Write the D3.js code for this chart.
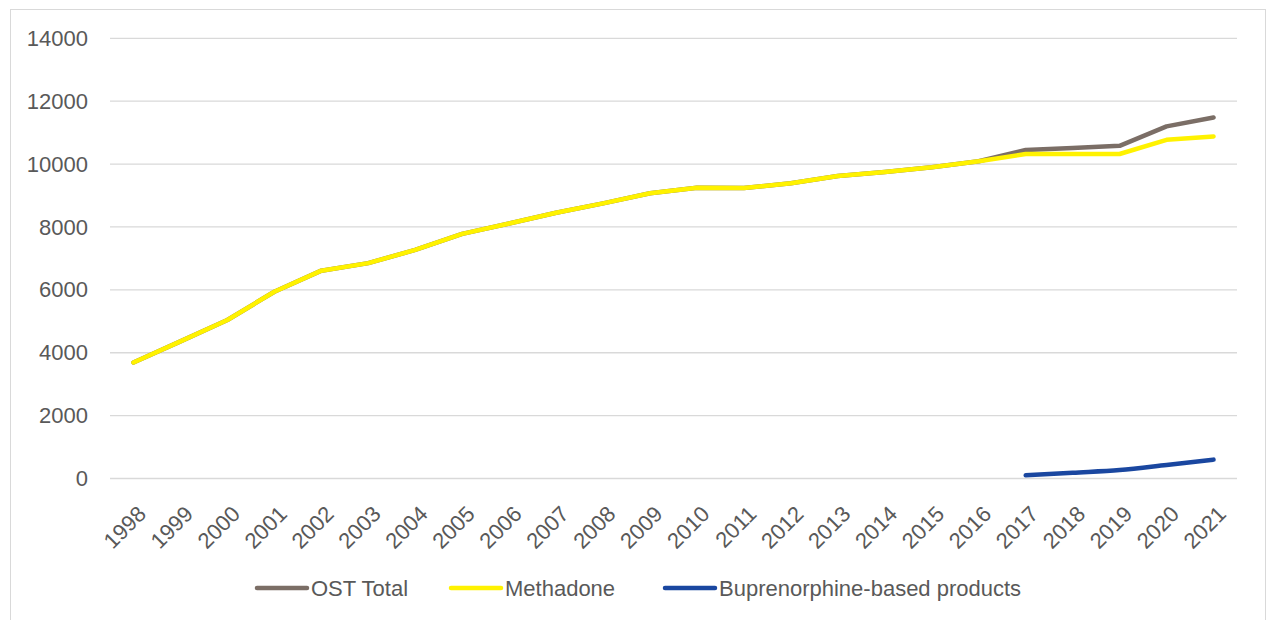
<!DOCTYPE html>
<html><head><meta charset="utf-8">
<script src="https://cdn.jsdelivr.net/npm/d3@7"></script>
<style>
html,body{margin:0;padding:0;background:#fff;}
svg{display:block;}
text{font-family:"Liberation Sans",Arial,sans-serif;fill:#595959;}
</style></head>
<body><svg id="c" width="1266" height="620"></svg>
<script>
const years = [1998,1999,2000,2001,2002,2003,2004,2005,2006,2007,2008,2009,2010,2011,2012,2013,2014,2015,2016,2017,2018,2019,2020,2021];
const ostTotal = [3690,4360,5040,5940,6610,6850,7270,7780,8110,8450,8750,9070,9250,9240,9390,9620,9750,9900,10090,10450,10510,10580,11200,11480];
const methadone = [3690,4360,5040,5940,6610,6850,7270,7780,8110,8450,8750,9070,9250,9240,9390,9620,9750,9900,10090,10320,10320,10320,10770,10880];
const buprenorphine = [null,null,null,null,null,null,null,null,null,null,null,null,null,null,null,null,null,null,null,100,185,270,430,600];
const yTicks = [0,2000,4000,6000,8000,10000,12000,14000];
const seriesNames = ["OST Total","Methadone","Buprenorphine-based products"];
const seriesColors = ["#7b6e66","#fff200","#1a47a0"];

const svg = d3.select("#c");
svg.append("rect").attr("x",10.5).attr("y",9.5).attr("width",1255).attr("height",640)
  .attr("fill","#fff").attr("stroke","#d9d9d9").attr("stroke-width",1);

const pLeft = 110, pRight = 1237, pTop = 38.3, pBottom = 478.5;
const x = d3.scaleBand().domain(years).range([pLeft,pRight]);
const y = d3.scaleLinear().domain([0,14000]).range([pBottom,pTop]);
const cx = d => x(d) + x.bandwidth()/2;

// gridlines
svg.append("g").selectAll("line").data(yTicks).join("line")
  .attr("x1",pLeft).attr("x2",pRight)
  .attr("y1",d=>y(d)).attr("y2",d=>y(d))
  .attr("stroke","#d9d9d9").attr("stroke-width",1.3);

// y axis labels
const yAxis = d3.axisLeft(y).tickValues(yTicks).tickSize(0).tickPadding(0).tickFormat(d3.format("d"));
const yg = svg.append("g").attr("transform",`translate(88,0)`).call(yAxis);
yg.select(".domain").remove();
yg.selectAll("text").attr("font-size",22).attr("fill","#595959")
  .style("font-family",'"Liberation Sans",Arial,sans-serif');

// x axis labels
const xAxis = d3.axisBottom(x).tickSize(0).tickPadding(0);
const xg = svg.append("g").call(xAxis);
xg.select(".domain").remove();
xg.selectAll(".tick").attr("transform",d=>`translate(${cx(d)+8.5},510)`);
xg.selectAll("text").attr("font-size",22).attr("fill","#595959")
  .style("font-family",'"Liberation Sans",Arial,sans-serif')
  .attr("text-anchor","end").attr("y",0).attr("dy","0.35em")
  .attr("transform","rotate(-45)");

const data = [ostTotal, methadone, buprenorphine];
data.forEach((vals,i)=>{
  const pts = years.map((yr,j)=>({yr, v: vals[j]})).filter(p=>p.v!==null);
  const line = d3.line().x(p=>cx(p.yr)).y(p=>y(p.v))
    .curve(i===2 ? d3.curveMonotoneX : d3.curveLinear);
  svg.append("path").datum(pts).attr("d",line)
    .attr("fill","none").attr("stroke",seriesColors[i]).attr("stroke-width",4.5)
    .attr("stroke-linecap","round").attr("stroke-linejoin","round");
});

// legend
const legendX = [257, 451, 665];
const lg = svg.append("g");
seriesNames.forEach((n,i)=>{
  lg.append("line").attr("x1",legendX[i]).attr("x2",legendX[i]+50)
    .attr("y1",588).attr("y2",588).attr("stroke",seriesColors[i])
    .attr("stroke-width",4.5).attr("stroke-linecap","round");
  lg.append("text").attr("x",legendX[i]+54).attr("y",588).attr("dy","0.35em")
    .attr("font-size",22).text(n);
});
</script></body></html>
